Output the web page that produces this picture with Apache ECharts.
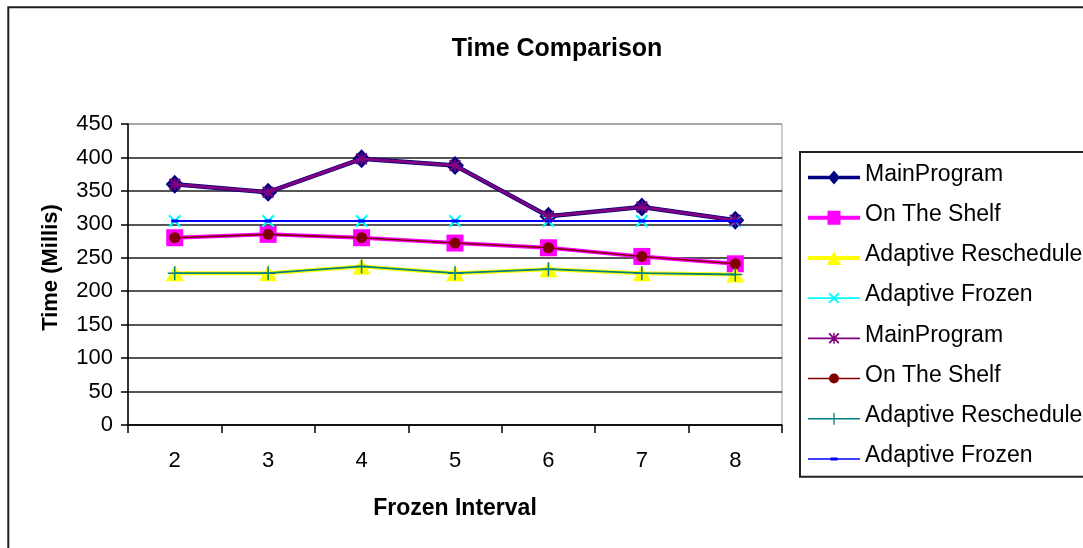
<!DOCTYPE html>
<html>
<head>
<meta charset="utf-8">
<script src="https://cdn.jsdelivr.net/npm/echarts@6/dist/echarts.min.js"></script>
<style>
  html, body { margin: 0; padding: 0; background: #fff; }
  #chart { width: 1083px; height: 548px; }
</style>
</head>
<body>
<div id="chart"></div>
<script>
// Frozen interval categories
const intervals = ['2', '3', '4', '5', '6', '7', '8'];

// Run times in milliseconds
const mainProgram        = [360, 348, 398, 388, 312, 326, 306];
const onTheShelf         = [280, 285, 280, 272, 265, 252, 241];
const adaptiveReschedule = [227, 227, 237, 227, 233, 227, 225];
const adaptiveFrozen     = [305, 305, 305, 305, 305, 305, 305];

// Y axis range
const yMin = 0, yMax = 450, yStep = 50;

const FONT = '"Liberation Sans", Arial, sans-serif';

// Marker outlines in a 12x12 box (clockwise so that unions fill solid)
const X_PTS = [[0,1.4],[1.4,0],[6,4.6],[10.6,0],[12,1.4],[7.4,6],[12,10.6],[10.6,12],[6,7.4],[1.4,12],[0,10.6],[4.6,6]];
const PLUS_PTS = [[5.2,0],[6.8,0],[6.8,5.2],[12,5.2],[12,6.8],[6.8,6.8],[6.8,12],[5.2,12],[5.2,6.8],[0,6.8],[0,5.2],[5.2,5.2]];
const THIN_PLUS_PTS = [[5.35,0],[6.65,0],[6.65,5.35],[12,5.35],[12,6.65],[6.65,6.65],[6.65,12],[5.35,12],[5.35,6.65],[0,6.65],[0,5.35],[5.35,5.35]];

function poly(pts, cx, cy, size) {
  const s = size / 12;
  return 'M' + pts.map(p => (cx - size / 2 + p[0] * s).toFixed(2) + ',' + (cy - size / 2 + p[1] * s).toFixed(2)).join(' L') + ' Z';
}

const X_SHAPE = 'path://' + poly(X_PTS, 6, 6, 12);
const PLUS_SHAPE = 'path://' + poly(THIN_PLUS_PTS, 6, 6, 12);
const STAR_SHAPE = 'path://' + poly(X_PTS, 6, 6, 12) + ' ' + poly(PLUS_PTS, 6, 6, 12);

// Legend keys: a 52x24 box holding a line stroke and the series marker
const KW = 52, KH = 24, KY = 15, KX = 26;
function keyIcon(lineWidth, marker) {
  const h = lineWidth / 2;
  return 'path://M0,0 M' + KW + ',' + KH +
    ' M0,' + (KY - h) + ' H' + KW + ' V' + (KY + h) + ' H0 Z ' + marker;
}
const KEY_DIAMOND  = `M${KX},${KY - 7} L${KX + 6},${KY} L${KX},${KY + 7} L${KX - 6},${KY} Z`;
const KEY_SQUARE   = `M${KX - 6.5},${KY - 7} H${KX + 6.5} V${KY + 7} H${KX - 6.5} Z`;
const KEY_TRIANGLE = `M${KX},${KY - 7} L${KX + 7},${KY + 7} H${KX - 7} Z`;
const KEY_CROSS    = poly(X_PTS, KX, KY, 11);
const KEY_STAR     = poly(X_PTS, KX, KY, 11) + ' ' + poly(PLUS_PTS, KX, KY, 11);
const KEY_CIRCLE   = `M${KX + 5},${KY} A5,5 0 1,1 ${KX - 5},${KY} A5,5 0 1,1 ${KX + 5},${KY} Z`;
const KEY_PLUS     = poly(THIN_PLUS_PTS, KX, KY, 12);
const KEY_DASH     = `M${KX - 3.5},${KY - 1.5} H${KX + 3.5} V${KY + 1.5} H${KX - 3.5} Z`;

// The chart lists every series twice; the second copy carries an
// invisible trailing character so the legend keeps both entries.
const SUFFIX = '\u200b';

function lineSeries(name, data, color, width, symbol, size, z) {
  return {
    name: name,
    type: 'line',
    data: data,
    symbol: symbol,
    symbolSize: size,
    showAllSymbol: true,
    z: z,
    lineStyle: { color: color, width: width },
    itemStyle: { color: color, borderWidth: 0 },
    emphasis: { disabled: true },
    animation: false
  };
}

const series = [
  lineSeries('MainProgram', mainProgram, '#000080', 4.5, 'diamond', [18, 19], 2),
  lineSeries('On The Shelf', onTheShelf, '#FF00FF', 4, 'rect', 17, 2),
  lineSeries('Adaptive Reschedule', adaptiveReschedule, '#FFFF00', 4, 'triangle', [18, 16], 2),
  lineSeries('Adaptive Frozen', adaptiveFrozen, '#00FFFF', 2, X_SHAPE, 13, 2),
  lineSeries('MainProgram' + SUFFIX, mainProgram, '#800080', 3, STAR_SHAPE, 12, 3),
  lineSeries('On The Shelf' + SUFFIX, onTheShelf, '#800000', 1.6, 'circle', 11, 3),
  lineSeries('Adaptive Reschedule' + SUFFIX, adaptiveReschedule, '#008080', 1.8, PLUS_SHAPE, 14, 3),
  lineSeries('Adaptive Frozen' + SUFFIX, adaptiveFrozen, '#0000FF', 2, 'rect', [7, 3], 3)
];

const legendIcons = [
  keyIcon(3.5, KEY_DIAMOND),
  keyIcon(4, KEY_SQUARE),
  keyIcon(4, KEY_TRIANGLE),
  keyIcon(1.8, KEY_CROSS),
  keyIcon(1.8, KEY_STAR),
  keyIcon(1.5, KEY_CIRCLE),
  keyIcon(1.5, KEY_PLUS),
  keyIcon(1.5, KEY_DASH)
];

const gridColors = [];
for (let v = yMin; v <= yMax; v += yStep) gridColors.push(v === yMax ? '#9a9a9a' : '#1e1e1e');

const chart = echarts.init(document.getElementById('chart'), null, { renderer: 'canvas' });
chart.setOption({
  backgroundColor: '#fff',
  animation: false,
  textStyle: { fontFamily: FONT },
  title: {
    text: 'Time Comparison',
    left: 552,
    textAlign: 'center',
    top: 32,
    textStyle: { fontFamily: FONT, fontSize: 25, fontWeight: 'bold', color: '#000' }
  },
  graphic: [
    {
      type: 'rect',
      shape: { x: 8.3, y: 7.3, width: 1200, height: 700 },
      style: { fill: 'none', stroke: '#1e1e1e', lineWidth: 2 },
      silent: true, z: -1
    }
  ],
  legend: {
    orient: 'vertical',
    left: 800,
    top: 152,
    padding: [10.5, 60, 8.8, 8],
    borderColor: '#222',
    borderWidth: 2,
    itemWidth: KW,
    itemHeight: KH,
    itemGap: 16.2,
    selectedMode: false,
    data: series.map((s, i) => ({ name: s.name, icon: legendIcons[i] })),
    formatter: name => name.replace(SUFFIX, ''),
    textStyle: { fontFamily: FONT, fontSize: 23, color: '#000', lineHeight: 24 }
  },
  grid: {
    left: 128, right: 301, top: 124, bottom: 123,
    show: true,
    borderColor: '#9a9a9a',
    borderWidth: 1,
    containLabel: false
  },
  xAxis: {
    type: 'category',
    data: intervals,
    boundaryGap: true,
    name: 'Frozen Interval',
    nameLocation: 'middle',
    nameGap: 72,
    nameTextStyle: { fontFamily: FONT, fontSize: 23, fontWeight: 'bold', color: '#000' },
    axisLine: { lineStyle: { color: '#000', width: 1.5 } },
    axisTick: { show: true, alignWithLabel: false, length: 8, lineStyle: { color: '#000', width: 1.5 } },
    axisLabel: { margin: 25, fontFamily: FONT, fontSize: 22, color: '#000' },
    splitLine: { show: false }
  },
  yAxis: {
    type: 'value',
    min: yMin, max: yMax, interval: yStep,
    name: 'Time (Millis)',
    nameLocation: 'middle',
    nameGap: 66,
    nameTextStyle: { fontFamily: FONT, fontSize: 22, fontWeight: 'bold', color: '#000', padding: [0, 0, 0, 14] },
    axisLine: { show: true, lineStyle: { color: '#000', width: 1.5 } },
    axisTick: { show: true, length: 7, lineStyle: { color: '#000', width: 1.5 } },
    axisLabel: { margin: 15, fontFamily: FONT, fontSize: 22, color: '#000' },
    splitLine: { show: true, lineStyle: { color: gridColors, width: 1.5 } }
  },
  series: series
});
</script>
</body>
</html>
